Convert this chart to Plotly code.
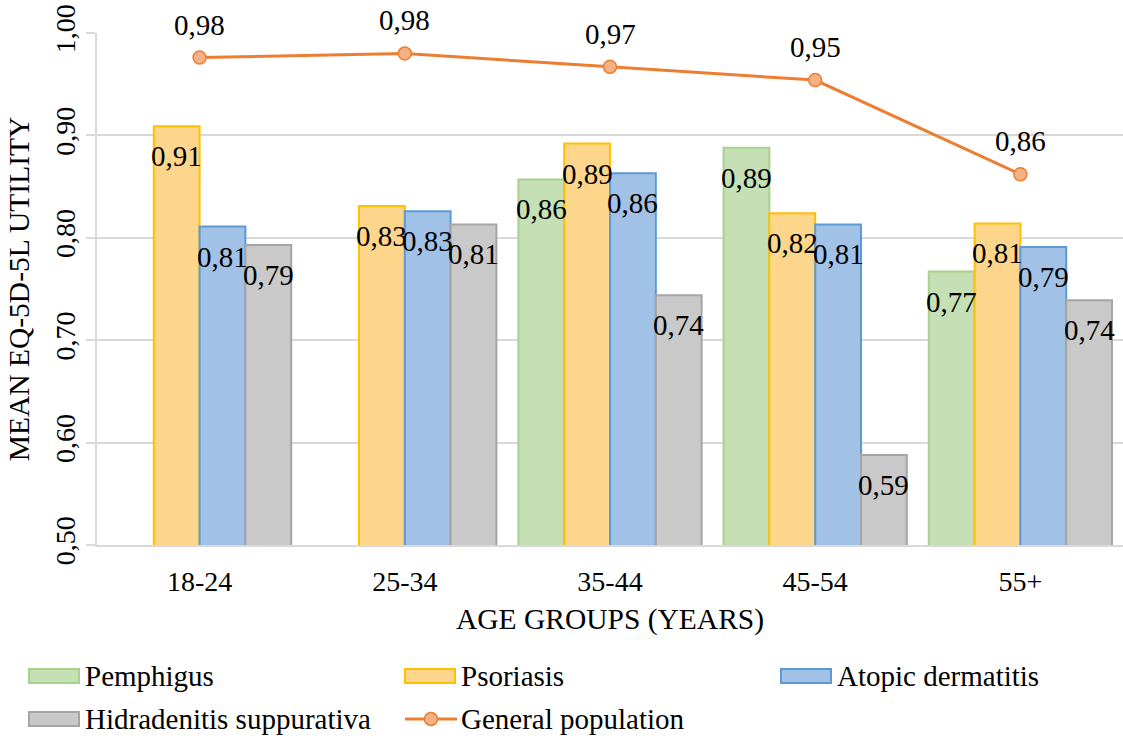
import plotly.graph_objects as go

# Mean EQ-5D-5L utility by age group
age_groups = ["18-24", "25-34", "35-44", "45-54", "55+"]
pemphigus = [None, None, 0.857, 0.888, 0.767]
psoriasis = [0.909, 0.831, 0.892, 0.824, 0.814]
atopic_dermatitis = [0.811, 0.826, 0.863, 0.813, 0.791]
hidradenitis = [0.793, 0.813, 0.744, 0.588, 0.739]
general_population = [0.976, 0.980, 0.967, 0.954, 0.862]

y_ticks = [0.5, 0.6, 0.7, 0.8, 0.9, 1.0]

FONT = "Liberation Serif, Times New Roman, serif"
FS = 29        # data labels and legend
FS_TICK = 28
FS_TITLE = 29.5
W, H = 1123, 738
M_L, M_R, M_T, M_B = 97, 0, 33, 193
BARGAP = 0.107

bar_series = [
    ("Pemphigus", pemphigus, "#c5e0b4", "#a9d18e"),
    ("Psoriasis", psoriasis, "#fed68b", "#ffc000"),
    ("Atopic dermatitis", atopic_dermatitis, "#a2c1e6", "#5b9bd5"),
    ("Hidradenitis suppurativa", hidradenitis, "#c9c9c9", "#a5a5a5"),
]
line_color = "#ed7d31"
marker_fill = "#f4b183"

plot_w = W - M_L - M_R
plot_h = H - M_T - M_B
bar_px = plot_w / len(age_groups) * (1 - BARGAP) / len(bar_series)


def fmt(v):
    return f"{v:.2f}".replace(".", ",")


fig = go.Figure()
annotations = []
for i, (name, vals, fill, edge) in enumerate(bar_series):
    fig.add_trace(go.Bar(
        name=name, x=age_groups, y=vals,
        marker=dict(color=fill, line=dict(color=edge, width=2)),
        showlegend=False, hoverinfo="x+y+name",
    ))
    # value labels just inside the top of each bar
    for cat, v in zip(age_groups, vals):
        if v is None:
            continue
        annotations.append(dict(
            x=cat, y=v, xref="x", yref="y", text=fmt(v), showarrow=False,
            xanchor="center", yanchor="top",
            xshift=(i - (len(bar_series) - 1) / 2) * bar_px, yshift=-12,
            font=dict(family=FONT, size=FS, color="black"),
        ))

fig.add_trace(go.Scatter(
    name="General population", x=age_groups, y=general_population,
    mode="lines+markers",
    line=dict(color=line_color, width=3),
    marker=dict(size=13, color=marker_fill, line=dict(color=line_color, width=1.5)),
    showlegend=False, cliponaxis=False,
))
for cat, v in zip(age_groups, general_population):
    annotations.append(dict(
        x=cat, y=v, xref="x", yref="y", text=fmt(v), showarrow=False,
        xanchor="center", yanchor="bottom", yshift=15,
        font=dict(family=FONT, size=FS, color="black"),
    ))


# Legend drawn below the axes (pixel layout converted to paper coordinates)
def px(xp):
    return (xp - M_L) / plot_w


def py(yp):
    return (H - M_B - yp) / plot_h


legend_items = [
    (bar_series[0], 29, 676),
    (bar_series[1], 405, 676),
    (bar_series[2], 781, 676),
    (bar_series[3], 29, 719),
]
shapes = []
for (name, _, fill, edge), x0, yc in legend_items:
    shapes.append(dict(type="rect", xref="paper", yref="paper",
                       x0=px(x0), x1=px(x0 + 50), y0=py(yc + 7), y1=py(yc - 7),
                       fillcolor=fill, line=dict(color=edge, width=2)))
    annotations.append(dict(xref="paper", yref="paper", x=px(x0 + 54), y=py(yc),
                            xanchor="left", yanchor="middle", showarrow=False,
                            text=name, font=dict(family=FONT, size=FS, color="black")))

# General population entry: line with a circle marker
shapes.append(dict(type="line", xref="paper", yref="paper",
                   x0=px(405), x1=px(457), y0=py(719), y1=py(719),
                   line=dict(color=line_color, width=3)))
shapes.append(dict(type="circle", xref="paper", yref="paper",
                   x0=px(424.5), x1=px(437.5), y0=py(725.5), y1=py(712.5),
                   fillcolor=marker_fill, line=dict(color=line_color, width=1.5)))
annotations.append(dict(xref="paper", yref="paper", x=px(459), y=py(719),
                        xanchor="left", yanchor="middle", showarrow=False,
                        text="General population",
                        font=dict(family=FONT, size=FS, color="black")))

fig.update_layout(
    width=W, height=H,
    margin=dict(l=M_L, r=M_R, t=M_T, b=M_B),
    paper_bgcolor="white", plot_bgcolor="white",
    barmode="group", bargap=BARGAP, bargroupgap=0,
    separators=",.",
    font=dict(family=FONT, size=FS, color="black"),
    shapes=shapes, annotations=annotations,
    showlegend=False,
)
fig.update_xaxes(
    type="category", showgrid=False, showline=True, linecolor="#d9d9d9", linewidth=2,
    ticks="", tickfont=dict(family=FONT, size=FS_TICK), ticklabelstandoff=10,
    title=dict(text="AGE GROUPS (YEARS)", font=dict(family=FONT, size=FS_TITLE), standoff=13),
)
fig.update_yaxes(
    range=[0.5, 1.0], tickvals=y_ticks, tickformat=".2f", tickangle=-90,
    showgrid=True, gridcolor="#d9d9d9", gridwidth=2,
    showline=True, linecolor="#d9d9d9", linewidth=2,
    ticks="outside", ticklen=9, tickcolor="#d9d9d9", tickwidth=2,
    tickfont=dict(family=FONT, size=FS_TICK), zeroline=False,
    title=dict(text="MEAN EQ-5D-5L UTILITY", font=dict(family=FONT, size=FS_TITLE), standoff=11),
)

fig.write_html("out.html")
